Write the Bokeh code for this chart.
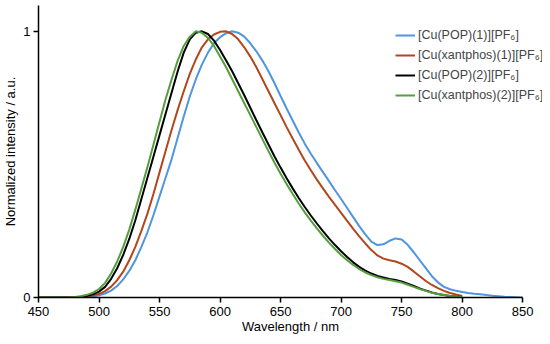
import numpy as np
from bokeh.plotting import figure
from bokeh.models import Range1d, FixedTicker, Legend, LegendItem
from bokeh.embed import file_html
from bokeh.resources import INLINE

# ---- data ----
wl = list(range(450, 805, 5))          # 450..800 nm
wl_blue = list(range(450, 855, 5))     # 450..850 nm

pop1 = [0, 0, 0, 0, 0, 0, 0, 0, 0.002, 0.004,            # 450-495
        0.008, 0.015, 0.026, 0.043, 0.068, 0.10, 0.14, 0.19, 0.245, 0.31,   # 500-545
        0.38, 0.45, 0.52, 0.60, 0.68, 0.755, 0.82, 0.875, 0.92, 0.955,      # 550-595
        0.978, 0.993, 1.0, 0.995, 0.98, 0.955, 0.925, 0.89, 0.85, 0.805,    # 600-645
        0.757, 0.71, 0.665, 0.62, 0.578, 0.54, 0.505, 0.471, 0.437, 0.403, # 650-695
        0.37, 0.336, 0.302, 0.268, 0.237, 0.21, 0.197, 0.20, 0.213, 0.222,  # 700-745
        0.218, 0.198, 0.17, 0.14, 0.11, 0.08, 0.057, 0.04, 0.031, 0.025,    # 750-795
        0.021, 0.017, 0.014, 0.012, 0.009, 0.007, 0.005, 0.003, 0.002, 0.001, 0.0]  # 800-850

xant1 = [0, 0, 0, 0, 0, 0, 0, 0.002, 0.004, 0.008,       # 450-495
         0.013, 0.024, 0.041, 0.065, 0.097, 0.14, 0.19, 0.25, 0.315, 0.39,  # 500-545
         0.47, 0.55, 0.63, 0.705, 0.775, 0.84, 0.895, 0.94, 0.97, 0.988,    # 550-595
         0.998, 1.0, 0.99, 0.97, 0.94, 0.905, 0.865, 0.82, 0.775, 0.73,     # 600-645
         0.685, 0.64, 0.597, 0.555, 0.515, 0.478, 0.443, 0.41, 0.378, 0.348,  # 650-695
         0.318, 0.288, 0.258, 0.23, 0.203, 0.178, 0.158, 0.146, 0.14, 0.135,  # 700-745
         0.127, 0.115, 0.098, 0.08, 0.062, 0.047, 0.035, 0.025, 0.017, 0.011,  # 750-795
         0.006]                                                 # 800

pop2 = [0, 0, 0, 0, 0, 0, 0, 0.003, 0.006, 0.012,        # 450-495
        0.022, 0.04, 0.07, 0.11, 0.16, 0.22, 0.29, 0.37, 0.45, 0.53,        # 500-545
        0.61, 0.69, 0.77, 0.85, 0.92, 0.97, 0.995, 1.0, 0.99, 0.965,        # 550-595
        0.93, 0.89, 0.85, 0.805, 0.76, 0.713, 0.666, 0.62, 0.575, 0.53,     # 600-645
        0.488, 0.448, 0.41, 0.374, 0.34, 0.308, 0.278, 0.249, 0.222, 0.197, # 650-695
        0.174, 0.152, 0.132, 0.115, 0.101, 0.09, 0.081, 0.075, 0.07, 0.066, # 700-745
        0.06, 0.052, 0.043, 0.034, 0.026, 0.019, 0.013, 0.009, 0.006, 0.004,  # 750-795
        0.003]                                                 # 800

xant2 = [0, 0, 0, 0, 0, 0, 0.002, 0.005, 0.01, 0.018,    # 450-495
         0.032, 0.055, 0.09, 0.135, 0.19, 0.255, 0.33, 0.41, 0.49, 0.575,   # 500-545
         0.66, 0.745, 0.82, 0.89, 0.945, 0.98, 1.0, 0.995, 0.975, 0.945,    # 550-595
         0.905, 0.865, 0.82, 0.775, 0.73, 0.685, 0.64, 0.595, 0.55, 0.506,  # 600-645
         0.465, 0.426, 0.389, 0.353, 0.32, 0.289, 0.26, 0.232, 0.206, 0.182,  # 650-695
         0.16, 0.14, 0.122, 0.107, 0.094, 0.084, 0.076, 0.07, 0.066, 0.061,   # 700-745
         0.056, 0.048, 0.04, 0.032, 0.025, 0.018, 0.013, 0.009, 0.006, 0.004,  # 750-795
         0.003]                                                 # 800

series_names = ["[Cu(POP)(1)][PF\u2086]", "[Cu(xantphos)(1)][PF\u2086]",
                "[Cu(POP)(2)][PF\u2086]", "[Cu(xantphos)(2)][PF\u2086]"]
x_ticks = [450, 500, 550, 600, 650, 700, 750, 800, 850]
x_tick_labels = ["450", "500", "550", "600", "650", "700", "750", "800", "850"]
y_ticks = [0, 1]
y_tick_labels = ["0", "1"]
x_title = "Wavelength / nm"
y_title = "Normalized intensity / a.u."

colors = ["#4f95e0", "#b4461e", "#000000", "#559e3f"]
FONT = "Liberation Sans"

p = figure(width=542, height=336, output_backend="svg", toolbar_location=None,
           x_range=Range1d(450, 866.4), y_range=Range1d(0, 1.097),
           min_border_left=33, min_border_right=0, min_border_top=5,
           min_border_bottom=37)
p.outline_line_color = None
p.grid.visible = False
p.background_fill_color = "white"
p.border_fill_color = "white"

xs_list = [wl_blue, wl, wl, wl]
ys_list = [pop1, xant1, pop2, xant2]
renderers = []
for xs, ys, c in zip(xs_list, ys_list, colors):
    r = p.line(xs, ys, line_color=c, line_width=2)
    renderers.append(r)

for ax in (p.xaxis[0], p.yaxis[0]):
    ax.axis_line_color = "black"
    ax.axis_line_width = 1.5
    ax.major_tick_line_color = "black"
    ax.major_tick_line_width = 1.5
    ax.major_tick_in = 0
    ax.major_tick_out = 5
    ax.minor_tick_line_color = None
    ax.major_label_text_font = FONT
    ax.major_label_text_font_size = "13px"
    ax.major_label_text_color = "black"
    ax.axis_label_text_font = FONT
    ax.axis_label_text_font_size = "13px"
    ax.axis_label_text_font_style = "normal"
    ax.axis_label_text_color = "black"

p.xaxis[0].ticker = FixedTicker(ticks=x_ticks)
p.xaxis[0].major_label_overrides = dict(zip(x_ticks, x_tick_labels))
p.xaxis[0].bounds = (450, 850)
p.xaxis[0].major_label_standoff = 4
p.xaxis[0].axis_label = x_title
p.xaxis[0].axis_label_standoff = 0

p.yaxis[0].ticker = FixedTicker(ticks=y_ticks)
p.yaxis[0].major_label_overrides = dict(zip(y_ticks, y_tick_labels))
p.yaxis[0].major_label_standoff = 3
p.yaxis[0].axis_label = y_title
p.yaxis[0].axis_label_standoff = 2

legend = Legend(items=[LegendItem(label=n, renderers=[r]) for n, r in zip(series_names, renderers)],
                location=(357, 194), glyph_width=20, glyph_height=16,
                label_height=16, spacing=4, label_standoff=3, padding=0, margin=0,
                border_line_color=None, background_fill_alpha=0,
                label_text_font=FONT, label_text_font_size="12.5px")
p.add_layout(legend)

open("out.html", "w").write(file_html(p, INLINE))
